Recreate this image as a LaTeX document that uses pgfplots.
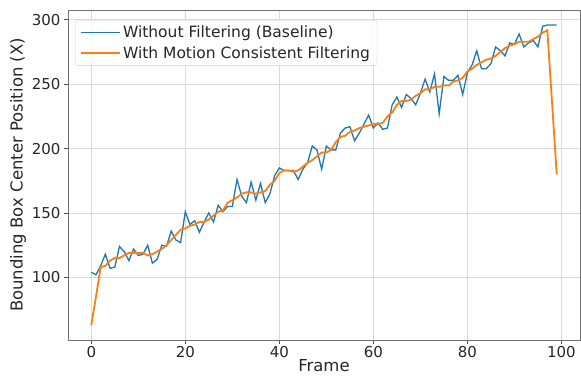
\documentclass[border=0pt]{standalone}
\usepackage{pgfplots}
\pgfplotsset{compat=1.18}
\usepackage{pgfplotstable}
\usepackage{fontspec}
\setmainfont{DejaVu Sans}

\definecolor{mplblue}{HTML}{1F77B4}
\definecolor{mplorange}{HTML}{FF7F0E}

% Raw detector output, frame by frame
\pgfplotstableread{
f y
0 104
1 102
2 109
3 118
4 107
5 108
6 124
7 120
8 113
9 122
10 117
11 118
12 125
13 111
14 114
15 125
16 124
17 136
18 129
19 127
20 151
21 141
22 144
23 135
24 143
25 150
26 143
27 156
28 151
29 155
30 155
31 176
32 163
33 158
34 174
35 160
36 173
37 158
38 165
39 179
40 185
41 183
42 183
43 183
44 176
45 184
46 189
47 202
48 199
49 184
50 202
51 199
52 199
53 212
54 216
55 217
56 206
57 212
58 219
59 226
60 216
61 220
62 215
63 216
64 234
65 240
66 232
67 242
68 239
69 234
70 243
71 254
72 244
73 258
74 227
75 256
76 253
77 253
78 257
79 242
80 259
81 265
82 276
83 262
84 262
85 266
86 279
87 276
88 272
89 282
90 281
91 289
92 279
93 282
94 284
95 279
96 295
97 296
98 296
99 296
}\rawdata

% Output of the motion-consistent filter
\pgfplotstableread{
f y
0 63
1 85
2 108
3 109
4 113
5 115
6 115
7 117
8 119
9 119
10 119
11 119
12 117
13 118
14 120
15 122
16 125
17 129
18 133
19 137
20 138
21 140
22 141
23 143
24 143
25 145
26 148
27 151
28 152
29 158
30 160
31 162
32 165
33 166
34 166
35 165
36 166
37 167
38 172
39 175
40 181
41 183
42 183
43 182
44 183
45 186
46 189
47 191
48 194
49 197
50 197
51 199
52 205
53 209
54 210
55 213
56 214
57 216
58 217
59 218
60 219
61 219
62 220
63 225
64 228
65 234
66 237
67 237
68 238
69 241
70 243
71 246
72 246
73 248
74 248
75 249
76 249
77 252
78 253
79 255
80 260
81 262
82 265
83 267
84 269
85 270
86 272
87 275
88 278
89 280
90 281
91 283
92 283
93 283
94 285
95 287
96 290
97 292
98 236
99 180
}\filtdata

\begin{document}
\begin{tikzpicture}
\path[use as bounding box] (-68pt,-42pt) rectangle (513pt,340pt);
\begin{axis}[
  at={(0,0)}, anchor=south west,
  scale only axis,
  width=512pt, height=330pt,
  xmin=-4.95, xmax=103.95,
  ymin=51.35, ymax=307.65,
  xtick={0,20,40,60,80,100},
  ytick={100,150,200,250,300},
  tick align=outside,
  tick pos=left,
  major tick length=4pt,
  every tick/.style={black!70, line width=0.8pt},
  axis line style={black!55, line width=0.9pt},
  grid=major,
  major grid style={black!15, line width=0.8pt},
  /pgf/number format/assume math mode=true,
  ticklabel style={font=\fontsize{15}{17}\selectfont, text=black!85},
  xticklabel style={yshift=1pt},
  xlabel={Frame},
  ylabel={Bounding Box Center Position (X)},
  label style={font=\fontsize{16.5}{19}\selectfont, text=black!85},
  xlabel style={yshift=5pt},
  ylabel style={yshift=-1pt},
  legend cell align=left,
  legend style={
    at={(0.0137,0.97)}, anchor=north west,
    draw=black!18, rounded corners=3pt,
    fill=white, fill opacity=0.8, text opacity=1,
    font=\fontsize{15.5}{18}\selectfont, text=black!85,
    inner xsep=5pt, inner ysep=4pt,
    row sep=3pt,
  },
  legend image code/.code={\draw[#1] (0pt,0pt) -- (32pt,0pt); \path (0pt,0pt) -- (39pt,0pt);},
]
\addplot[mplblue, line width=1.3pt] table[x=f, y=y] {\rawdata};
\addlegendentry{Without Filtering (Baseline)}
\addplot[mplorange, line width=1.8pt] table[x=f, y=y] {\filtdata};
\addlegendentry{With Motion Consistent Filtering}
\end{axis}
\end{tikzpicture}
\end{document}
